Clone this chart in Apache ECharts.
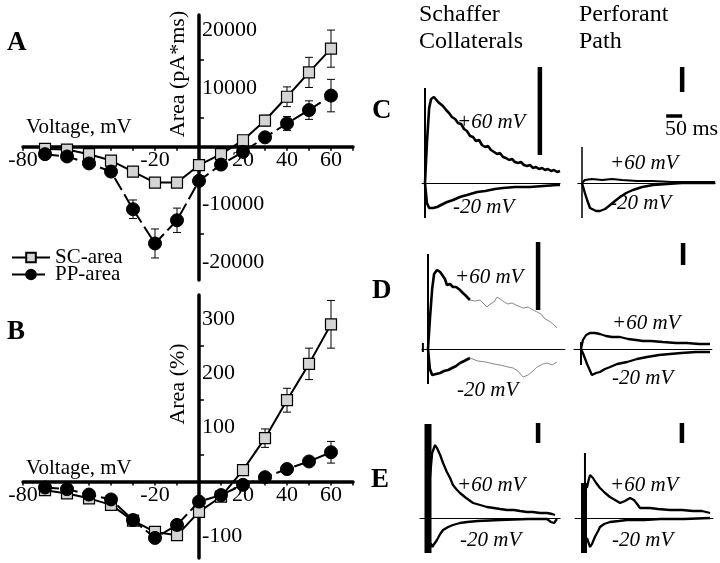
<!DOCTYPE html>
<html><head><meta charset="utf-8">
<script src="https://cdn.jsdelivr.net/npm/echarts@6/dist/echarts.min.js"></script>
<style>html,body{margin:0;padding:0;background:#fff}#c{width:720px;height:563px}</style>
</head><body><div id="c"></div>
<script>
// ---------- Data: panels A & B ----------
const voltage = [-70,-60,-50,-40,-30,-20,-10,0,10,20,30,40,50,60];
const scAreaA = [-400,-500,-1300,-2400,-4300,-6200,-6200,-3200,-1300,1100,4500,8600,12800,16900];
const scErrA  = [300,300,400,500,600,700,800,600,500,600,900,1700,2600,3200];
const ppAreaA = [-1300,-1700,-2900,-4300,-10800,-16700,-12700,-5900,-3100,-900,1600,4000,6300,8800];
const ppErrA  = [400,400,500,600,1600,2500,2100,800,600,500,600,1200,1600,2800];
const scAreaB = [-16,-22,-31,-43,-72,-93,-99,-56,-28,21,80,150,217,290];
const scErrB  = [3,3,3,4,5,6,6,5,4,5,17,22,29,44];
const ppAreaB = [-11,-14,-24,-33,-71,-104,-80,-37,-25,-6,8,23,37,54];
const ppErrB  = [3,3,3,4,5,6,6,5,4,3,4,5,6,20];
const xTickLabels = [-80,-20,20,40,60];
const yTickLabelsA = [20000,10000,-10000,-20000];
const yTickLabelsB = [300,200,100,-100];
const yTicksA = [-15000,-5000,5000,15000];
const yTicksB = [-50,50,150,250];

// ---------- Data: traces (time ms, relative current) ----------
const sc60C = [[0,0],[6,40],[13,75],[19,84],[28,86],[34,85],[41,81],[47,80],[56,77],[66,73],[75,70],[84,66],[94,64],[103,60],[113,59],[122,54],[131,52],[141,47],[150,46],[159,42],[169,43],[178,38],[188,36],[197,37],[206,33],[216,31],[225,29],[234,30],[244,26],[253,25],[263,23],[272,24],[281,21],[291,20],[300,21],[309,18],[319,17],[328,18],[338,15],[347,16],[356,14],[366,15],[375,13],[384,14],[394,12],[403,13],[413,11],[422,12]];
const sc20C = [[0,0],[6,-20],[13,-25],[25,-25],[38,-24],[50,-22],[69,-19],[88,-17],[109,-14],[131,-12],[163,-9],[188,-8],[219,-6],[244,-5],[281,-4],[328,-4],[369,-3],[413,-2],[422,-2]];
const pp60C = [[0,0],[9,3],[31,4],[63,3],[94,4],[125,3],[172,2],[219,2],[281,1],[344,1],[416,1]];
const pp20C = [[0,0],[9,-10],[16,-17],[25,-25],[31,-27],[44,-28],[56,-28],[72,-26],[88,-22],[103,-18],[119,-14],[138,-10],[159,-7],[188,-4],[222,-2],[266,-1],[313,0],[416,0]];
const sc60D = [[0,0],[6,30],[13,60],[19,75],[28,79],[38,77],[44,76],[53,70],[59,64],[69,65],[78,62],[88,62],[100,59],[109,56],[116,54],[125,51],[131,49]];
const sc60Dgray = [[131,49],[147,48],[163,49],[172,46],[184,42],[194,45],[206,47],[216,52],[225,50],[238,47],[250,45],[263,46],[275,44],[297,41],[313,42],[328,39],[341,37],[353,35],[366,30],[378,28],[391,25],[403,21]];
const sc20D = [[0,0],[6,-20],[13,-26],[25,-25],[38,-24],[50,-22],[63,-21],[75,-19],[88,-17],[100,-14],[113,-12],[131,-9]];
const sc20Dgray = [[131,-9],[156,-12],[181,-13],[206,-15],[225,-16],[250,-18],[266,-19],[281,-22],[297,-28],[313,-26],[328,-22],[341,-18],[359,-15],[372,-14],[388,-16],[403,-13]];
const pp60D = [[0,0],[6,9],[16,14],[28,16],[44,16],[59,15],[78,13],[97,12],[122,12],[147,10],[172,9],[194,8],[219,8],[256,7],[297,6],[331,6],[369,5],[403,5]];
const pp20D = [[0,0],[6,-4],[19,-15],[34,-26],[47,-24],[59,-23],[75,-20],[91,-18],[113,-15],[144,-13],[175,-10],[206,-8],[244,-6],[278,-5],[313,-4],[359,-3],[403,-3]];
const sc60E = [[6,40],[13,65],[22,73],[28,70],[38,63],[47,55],[59,46],[69,40],[78,33],[88,29],[100,25],[119,20],[141,15],[163,13],[184,11],[206,10],[225,9],[247,8],[269,8],[288,7],[309,6],[328,6],[350,5],[372,5],[388,4],[397,3]];
const sc20E = [[9,-25],[13,-29],[19,-27],[28,-22],[38,-16],[47,-12],[63,-9],[78,-7],[100,-5],[122,-4],[156,-3],[225,-2],[313,-1],[372,-1],[384,-4],[394,-5],[403,-1]];
const pp60E = [[9,30],[16,40],[19,43],[28,40],[38,35],[50,30],[66,25],[81,21],[97,18],[113,15],[128,17],[144,20],[156,18],[166,14],[175,10],[194,10],[206,10],[231,9],[269,8],[306,8],[341,7],[369,7],[394,5]];
const pp20E = [[9,-20],[19,-29],[25,-26],[34,-19],[44,-13],[50,-9],[63,-6],[81,-4],[109,-3],[134,-2],[188,-2],[238,-1],[313,-1],[394,0]];
// stimulus artifacts and scale bars
const artC1 = [[0,95],[0,-35]], artC2 = [[0,36],[0,-35]];
const artD1 = [[0,95],[0,-35]], blipD1 = [[-16,6],[-16,-3]], artD2 = [[0,7],[0,-16]];
const artE1 = [[0,94],[0,-35]], artE2 = [[0,35],[0,-35]], spikeE2 = [[3,65],[3,0]];
const barC1 = [[359,116],[359,28]], barC2 = [[313,116],[313,91]], bar50ms = [[263,67],[313,67]];
const barD1 = [[344,107],[344,39]], barD2 = [[319,106],[319,84]];
const barE1 = [[344,95],[344,75]], barE2 = [[306,95],[306,75]];

// ---------- Layout ----------
const FONT = "'Liberation Serif','Times New Roman',serif";
const msPerPx = 3.125;
const traceLayout = [
  {x0:425,y0:183,tMin:-9, tMax:422,aMin:-39,aMax:123},
  {x0:582,y0:183,tMin:-13,tMax:416,aMin:-39,aMax:123},
  {x0:428,y0:349,tMin:-19,tMax:428,aMin:-41,aMax:114},
  {x0:581,y0:349,tMin:-22,tMax:409,aMin:-41,aMax:114},
  {x0:428,y0:518,tMin:-25,tMax:413,aMin:-42,aMax:103},
  {x0:584,y0:518,tMin:-28,tMax:403,aMin:-42,aMax:103}
];
const mainExt = [
  {xMin:-80, xMax:70, yMin:-23000, yMax:22700},
  {xMin:-80, xMax:70, yMin:-141, yMax:344}
];
const grids = [
  {left:23, top:15, width:330, height:265},
  {left:23, top:295, width:330, height:263}
];
traceLayout.forEach(t => grids.push({
  left: t.x0 + t.tMin/msPerPx, width: (t.tMax - t.tMin)/msPerPx,
  top: t.y0 - t.aMax, height: t.aMax - t.aMin
}));

function mainX(gi){
  const g = grids[gi], e = mainExt[gi];
  const zeroY = g.top + g.height * e.yMax / (e.yMax - e.yMin);
  return {gridIndex:gi, type:'value', min:e.xMin, max:e.xMax, interval:10,
    offset: -(g.top + g.height - zeroY),
    axisLine:{show:true, onZero:false, lineStyle:{color:'#000', width:3.5}},
    axisTick:{show:true, inside:false, length:4, lineStyle:{color:'#000', width:1.5}},
    axisLabel:{show:true, customValues:xTickLabels, margin:3, color:'#000', fontFamily:FONT, fontSize:22, formatter:v=>String(v)},
    splitLine:{show:false}};
}
function mainY(gi, ticks, labels){
  const g = grids[gi], e = mainExt[gi];
  const zeroX = g.left + g.width * (-e.xMin) / (e.xMax - e.xMin);
  return {gridIndex:gi, type:'value', min:e.yMin, max:e.yMax,
    offset: -(zeroX - g.left),
    axisLine:{show:true, onZero:false, lineStyle:{color:'#000', width:3.5}},
    axisTick:{show:true, inside:true, length:5, customValues:ticks, lineStyle:{color:'#000', width:1.5}},
    axisLabel:{show:true, inside:true, customValues:labels, margin:3, color:'#000', fontFamily:FONT, fontSize:22, formatter:v=>String(v)},
    splitLine:{show:false}};
}
const xAxes = [mainX(0), mainX(1)];
const yAxes = [mainY(0,yTicksA,yTickLabelsA), mainY(1,yTicksB,yTickLabelsB)];
traceLayout.forEach((t,i) => {
  xAxes.push({gridIndex:i+2, type:'value', min:t.tMin, max:t.tMax,
    axisLine:{show:true, onZero:true, lineStyle:{color:'#000', width:1}},
    axisTick:{show:false}, axisLabel:{show:false}, splitLine:{show:false}});
  yAxes.push({gridIndex:i+2, type:'value', min:t.aMin, max:t.aMax,
    axisLine:{show:false}, axisTick:{show:false}, axisLabel:{show:false}, splitLine:{show:false}});
});

function errBars(vals, errs){ return voltage.map((v,i)=>[v, vals[i], errs[i]]); }
function errRender(params, api){
  const x = api.value(0), y = api.value(1), e = api.value(2);
  const t = api.coord([x, y + e]), b = api.coord([x, y - e]);
  const hw = 4, st = {stroke:'#000', lineWidth:1};
  return {type:'group', children:[
    {type:'line', shape:{x1:t[0],y1:t[1],x2:b[0],y2:b[1]}, style:st},
    {type:'line', shape:{x1:t[0]-hw,y1:t[1],x2:t[0]+hw,y2:t[1]}, style:st},
    {type:'line', shape:{x1:b[0]-hw,y1:b[1],x2:b[0]+hw,y2:b[1]}, style:st}
  ]};
}
const scStyle = {color:'#d4d4d4', borderColor:'#000', borderWidth:1.2};
const ppStyle = {color:'#000', borderColor:'#000', borderWidth:1};

const series = [];
[[scAreaA,scErrA,ppAreaA,ppErrA],[scAreaB,scErrB,ppAreaB,ppErrB]].forEach((d,gi)=>{
  series.push({type:'custom', xAxisIndex:gi, yAxisIndex:gi, renderItem:errRender, data:errBars(d[0],d[1]), z:2, silent:true});
  series.push({type:'custom', xAxisIndex:gi, yAxisIndex:gi, renderItem:errRender, data:errBars(d[2],d[3]), z:2, silent:true});
  series.push({name:'SC-area', type:'line', xAxisIndex:gi, yAxisIndex:gi, data:voltage.map((v,i)=>[v,d[0][i]]),
    symbol:'rect', symbolSize:11, itemStyle:scStyle, lineStyle:{color:'#000', width:2, type:'solid'}, z:3});
  series.push({name:'PP-area', type:'line', xAxisIndex:gi, yAxisIndex:gi, data:voltage.map((v,i)=>[v,d[2][i]]),
    symbol:'circle', symbolSize:13, itemStyle:ppStyle, lineStyle:{color:'#000', width:2, type:[14,5]}, z:4});
});

function tr(idx, data, w, color){
  series.push({type:'line', xAxisIndex:idx, yAxisIndex:idx, data:data, showSymbol:false, symbol:'none',
    lineStyle:{color:color||'#000', width:w}, silent:true, animation:false});
}
tr(2, sc60C, 2.6); tr(2, sc20C, 2.6); tr(2, artC1, 2); tr(2, barC1, 4.5);
tr(3, pp60C, 2.2); tr(3, pp20C, 2.4); tr(3, artC2, 1.5); tr(3, barC2, 4.5); tr(3, bar50ms, 3.5);
tr(4, sc60D, 2.6); tr(4, sc60Dgray, 1, '#8a8a8a'); tr(4, sc20D, 2.6); tr(4, sc20Dgray, 1, '#8a8a8a');
tr(4, artD1, 2); tr(4, blipD1, 2); tr(4, barD1, 4.5);
tr(5, pp60D, 2.3); tr(5, pp20D, 2.3); tr(5, artD2, 2); tr(5, barD2, 4.5);
tr(6, sc60E, 2.3); tr(6, sc20E, 2.3); tr(6, artE1, 7); tr(6, barE1, 4.5);
tr(7, pp60E, 2.3); tr(7, pp20E, 2.3); tr(7, artE2, 6); tr(7, spikeE2, 2); tr(7, barE2, 4.5);

function txt(x, y, s, font, opts){
  return Object.assign({type:'text', x:x, y:y, z:100,
    style:{text:s, font:font, fill:'#000', textAlign:'left', textVerticalAlign:'middle'}}, opts||{});
}
const fLab = '21px ' + FONT, fBig = 'bold 27px ' + FONT, fIt = 'italic 21px ' + FONT, fHead = '24px ' + FONT;
const graphics = [
  txt(7, 43, 'A', fBig), txt(7, 332, 'B', fBig),
  txt(372, 111, 'C', fBig), txt(372, 291, 'D', fBig), txt(371, 480, 'E', fBig),
  txt(26, 127, 'Voltage, mV', fLab), txt(26, 468, 'Voltage, mV', fLab),
  {type:'text', x:178, y:74, rotation:Math.PI/2, z:100, style:{text:'Area (pA*ms)', font:'22px '+FONT, fill:'#000', textAlign:'center', textVerticalAlign:'middle'}},
  {type:'text', x:178, y:384, rotation:Math.PI/2, z:100, style:{text:'Area (%)', font:'22px '+FONT, fill:'#000', textAlign:'center', textVerticalAlign:'middle'}},
  txt(419, 15, 'Schaffer', fHead), txt(419, 42, 'Collaterals', fHead),
  txt(579, 15, 'Perforant', fHead), txt(579, 42, 'Path', fHead),
  txt(665, 129, '50 ms', '22px ' + FONT),
  txt(457, 122, '+60 mV', fIt), txt(453, 207, '-20 mV', fIt),
  txt(610, 163, '+60 mV', fIt), txt(610, 203, '-20 mV', fIt),
  txt(455, 277, '+60 mV', fIt), txt(457, 390, '-20 mV', fIt),
  txt(612, 323, '+60 mV', fIt), txt(612, 378, '-20 mV', fIt),
  txt(457, 485, '+60 mV', fIt), txt(460, 540, '-20 mV', fIt),
  txt(610, 485, '+60 mV', fIt), txt(612, 540, '-20 mV', fIt)
];

const chart = echarts.init(document.getElementById('c'), null, {renderer:'canvas'});
chart.setOption({
  animation:false,
  backgroundColor:'#fff',
  grid:grids, xAxis:xAxes, yAxis:yAxes, series:series, graphic:graphics,
  legend:{data:['SC-area','PP-area'], orient:'vertical', left:6, top:242, itemWidth:38, itemHeight:12, itemGap:-4,
    textStyle:{fontFamily:FONT, fontSize:21, color:'#000', lineHeight:15}, selectedMode:false}
});
</script></body></html>
